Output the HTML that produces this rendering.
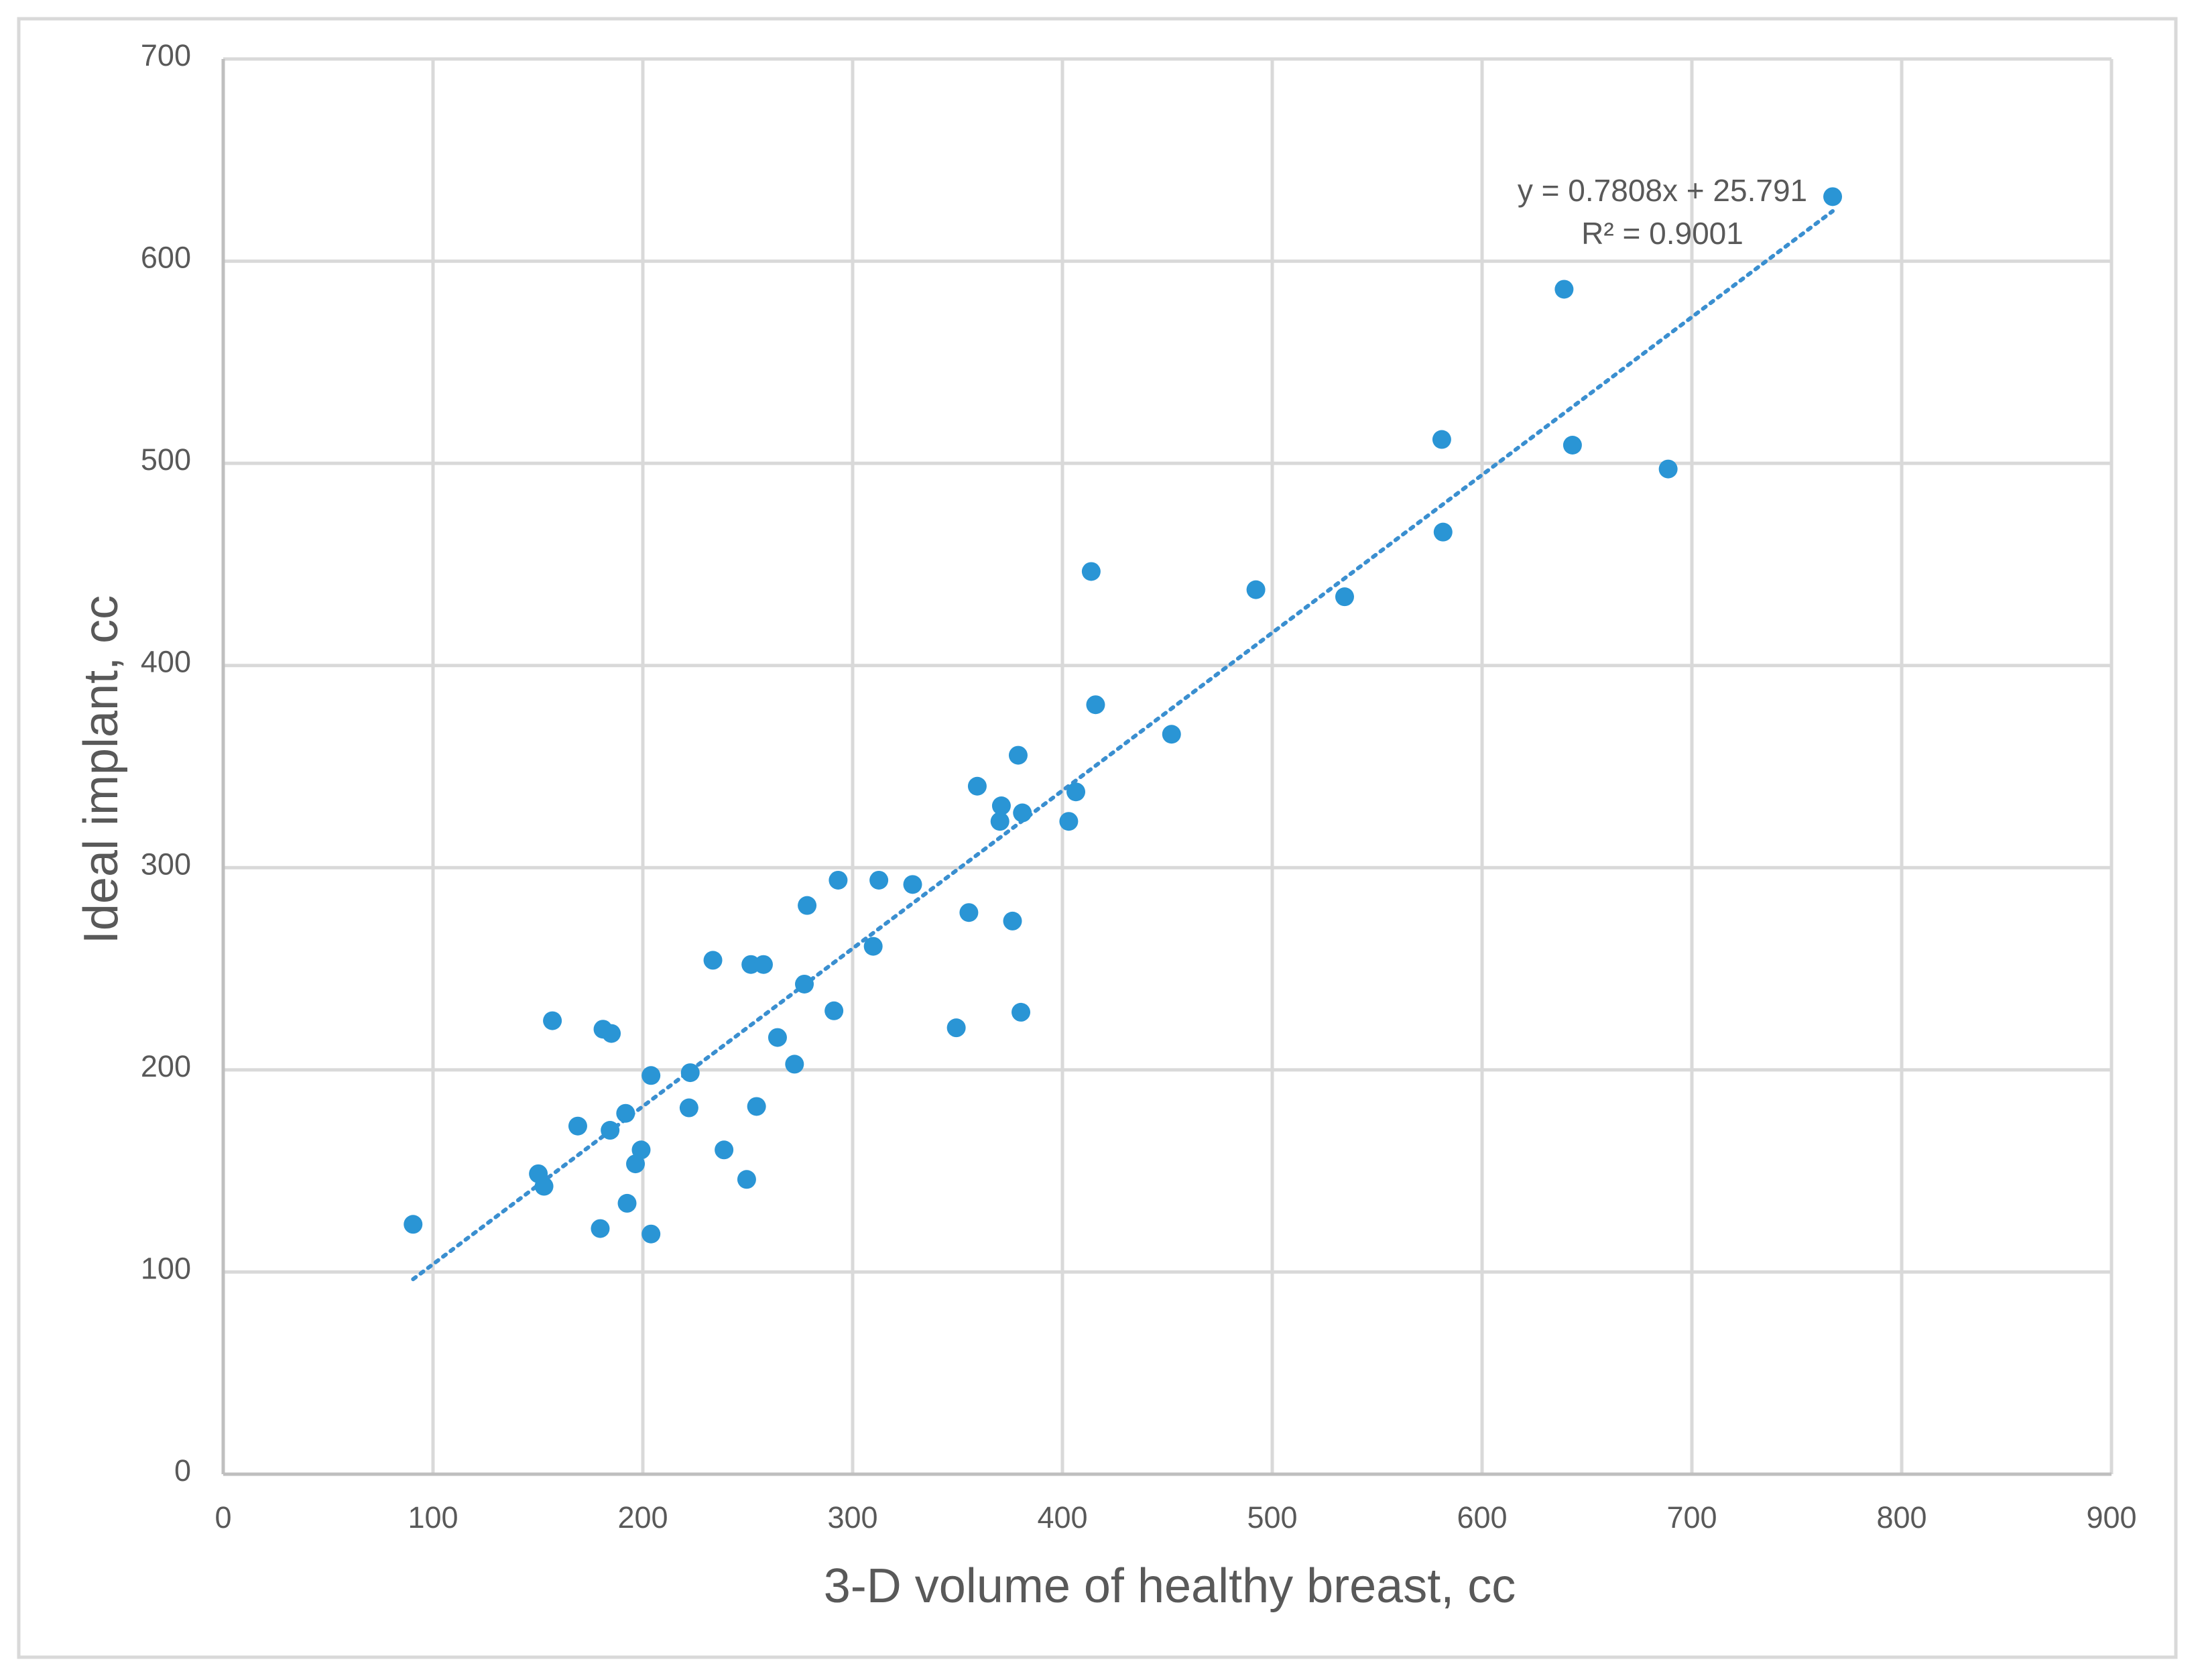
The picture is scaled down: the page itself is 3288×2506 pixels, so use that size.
<!DOCTYPE html>
<html><head><meta charset="utf-8"><style>
html,body{margin:0;padding:0;background:#fff;}
svg{display:block;}
text{font-family:"Liberation Sans",sans-serif;fill:#595959;}
</style></head><body>
<svg id="chart" width="3288" height="2506" viewBox="0 0 3288 2506" xmlns="http://www.w3.org/2000/svg">
<rect x="28" y="28" width="3218" height="2444" fill="#fff" stroke="#d9d9d9" stroke-width="5"/>
<g id="grid"></g>
<g id="axes"></g>
<g id="trend"></g>
<g id="points"></g>
<text x="2480" y="300" font-size="46" text-anchor="middle">y = 0.7808x + 25.791</text>
<text x="2480" y="364" font-size="46" text-anchor="middle">R² = 0.9001</text>
<text x="1745" y="2390" font-size="72" text-anchor="middle">3-D volume of healthy breast, cc</text>
<text transform="translate(175,1148) rotate(-90)" font-size="72" text-anchor="middle">Ideal implant, cc</text>
</svg>
<script>
const xTicks=[0,100,200,300,400,500,600,700,800,900];
const yTicks=[0,100,200,300,400,500,600,700];
const xVals=[90.5,150.2,152.9,156.9,169,181,185,179.7,184.4,191.8,192.5,196.5,199.2,203.9,203.9,222.6,222,233.4,238.7,249.5,251.5,257.5,254.2,264.2,272.3,277,278.3,291.1,293.1,309.8,312.5,328.6,349.4,355.4,359.4,370.2,370.9,376.2,378.9,380.2,380.9,403,406.4,413.7,415.8,452,492.2,534.5,580.8,581.4,639.1,643.1,688.7,767.1];
const yVals=[123.6,148.6,142.4,224.3,172.2,220.1,218,121.5,170.1,178.5,134,153.5,160.4,118.8,197.2,198.6,181.2,254.2,160.4,145.8,252.1,252.1,181.9,216,202.8,242.4,281.3,229.2,293.8,261.1,293.8,291.7,220.8,277.8,340.3,322.9,330.6,273.6,355.6,228.5,327.1,322.9,337.5,446.5,380.6,366,437.5,434,511.8,466,586.1,509,497.2,631.9];
const slope=0.7808, intercept=25.791;
const NS="http://www.w3.org/2000/svg";
const L=333,R=3150,T=88,B=2199;
const sx=v=>L+(v-0)/(900-0)*(R-L);
const sy=v=>B-(v-0)/(700-0)*(B-T);
function mk(tag,attrs,parent){const e=document.createElementNS(NS,tag);for(const k in attrs)e.setAttribute(k,attrs[k]);parent.appendChild(e);return e;}
const grid=document.getElementById('grid'),axes=document.getElementById('axes'),trend=document.getElementById('trend'),pts=document.getElementById('points');
xTicks.forEach(t=>{
  const l=mk('line',{x1:sx(t),x2:sx(t),y1:T,y2:B,stroke:'#d9d9d9','stroke-width':5},grid);
  
  
  const tx=mk('text',{x:sx(t),y:B+80,'font-size':45,'text-anchor':'middle'},axes);
  tx.textContent=t;
  
  
});
yTicks.forEach(t=>{
  const l=mk('line',{x1:L,x2:R,y1:sy(t),y2:sy(t),stroke:'#d9d9d9','stroke-width':5},grid);
  
  
  const tx=mk('text',{x:285,y:sy(t)+10,'font-size':45,'text-anchor':'end'},axes);
  tx.textContent=t;
  
  
});
const ax=mk('line',{x1:L,x2:R,y1:B,y2:B,stroke:'#bfbfbf','stroke-width':5},axes);


const ay=mk('line',{x1:L,x2:L,y1:T,y2:B,stroke:'#bfbfbf','stroke-width':5},axes);


const xmin=Math.min(...xVals),xmax=Math.max(...xVals);
const tl=mk('line',{x1:sx(xmin),y1:sy(slope*xmin+intercept),x2:sx(xmax),y2:sy(slope*xmax+intercept),stroke:'#3a8fd0','stroke-width':6,'stroke-dasharray':'5 9','stroke-linecap':'round'},trend);


xVals.forEach((x,i)=>{
  const c=mk('circle',{cx:sx(x),cy:sy(yVals[i]),r:14,fill:'#2a95d5'},pts);
  
  
});
</script>
</body></html>
